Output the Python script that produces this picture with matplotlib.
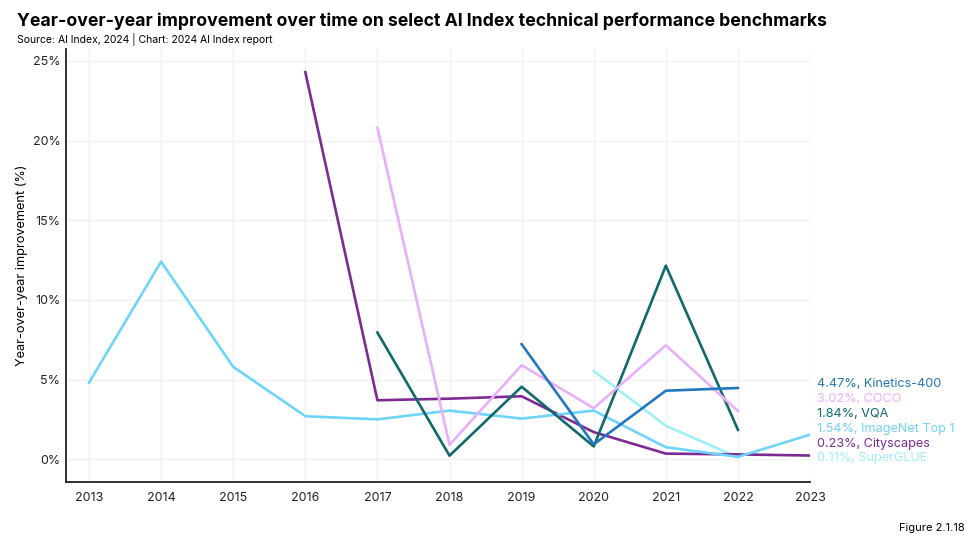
import matplotlib.pyplot as plt

plt.rcParams['font.family'] = ['Inter', 'DejaVu Sans']

# data (percent improvement year over year)
years_imagenet = [2013, 2014, 2015, 2016, 2017, 2018, 2019, 2020, 2021, 2022, 2023]
imagenet = [4.8, 12.4, 5.8, 2.7, 2.5, 3.05, 2.55, 3.05, 0.75, 0.15, 1.54]

years_cityscapes = [2016, 2017, 2018, 2019, 2020, 2021, 2022, 2023]
cityscapes = [24.3, 3.7, 3.8, 3.95, 1.7, 0.35, 0.3, 0.23]

years_coco = [2017, 2018, 2019, 2020, 2021, 2022]
coco = [20.8, 0.9, 5.9, 3.2, 7.15, 3.02]

years_vqa = [2017, 2018, 2019, 2020, 2021, 2022]
vqa = [7.95, 0.22, 4.55, 0.8, 12.15, 1.84]

years_kinetics = [2019, 2020, 2021, 2022]
kinetics = [7.22, 0.93, 4.3, 4.47]

years_superglue = [2020, 2021, 2022]
superglue = [5.53, 2.1, 0.11]

series = [
    ("Kinetics-400", years_kinetics, kinetics, "#2378bd"),
    ("COCO", years_coco, coco, "#e8b0fb"),
    ("VQA", years_vqa, vqa, "#10696b"),
    ("ImageNet Top 1", years_imagenet, imagenet, "#6ed4fb"),
    ("Cityscapes", years_cityscapes, cityscapes, "#7e2a92"),
    ("SuperGLUE", years_superglue, superglue, "#9ef0f4"),
]

fig = plt.figure(figsize=(9.69, 5.51), dpi=100)
ax = fig.add_axes([0.068, 0.125, 0.768, 0.786])

# draw back-to-front so the order looks like the reference
for name, xs, ys, col in series[::-1]:
    ax.plot(xs, ys, color=col, linewidth=1.9)

# end labels stacked at the right side
for i, (name, xs, ys, col) in enumerate(series):
    ax.text(2023.1, 4.7 - i * 0.93, f"{ys[-1]:.2f}%, {name}", color=col,
            fontsize=9.1, va='center', ha='left', clip_on=False)

ax.set_xlim(2012.68, 2023)
ax.set_ylim(-1.44, 25.75)
ax.set_xticks(range(2013, 2024))
ax.set_yticks([0, 5, 10, 15, 20, 25])
ax.set_yticklabels([f"{v}%" for v in [0, 5, 10, 15, 20, 25]])
ax.tick_params(length=0, labelsize=9, colors='#222222')
ax.tick_params(axis='y', pad=4)
ax.tick_params(axis='x', pad=7)
ax.grid(True, color='#f2f2f2', linewidth=1)
ax.set_axisbelow(True)
for s in ['top', 'right']:
    ax.spines[s].set_visible(False)
for s in ['left', 'bottom']:
    ax.spines[s].set_color('#222222')
    ax.spines[s].set_linewidth(1.3)
ax.set_ylabel("Year-over-year improvement (%)", fontsize=9.2, labelpad=3)

fig.text(0.018, 0.962, "Year-over-year improvement over time on select AI Index technical performance benchmarks",
         fontsize=12.7, fontweight='bold', va='center', ha='left')
fig.text(0.018, 0.928, "Source: AI Index, 2024 | Chart: 2024 AI Index report",
         fontsize=7.5, va='center', ha='left')
fig.text(0.995, 0.042, "Figure 2.1.18", fontsize=8, va='center', ha='right')

fig.savefig("out.png", dpi=100)
